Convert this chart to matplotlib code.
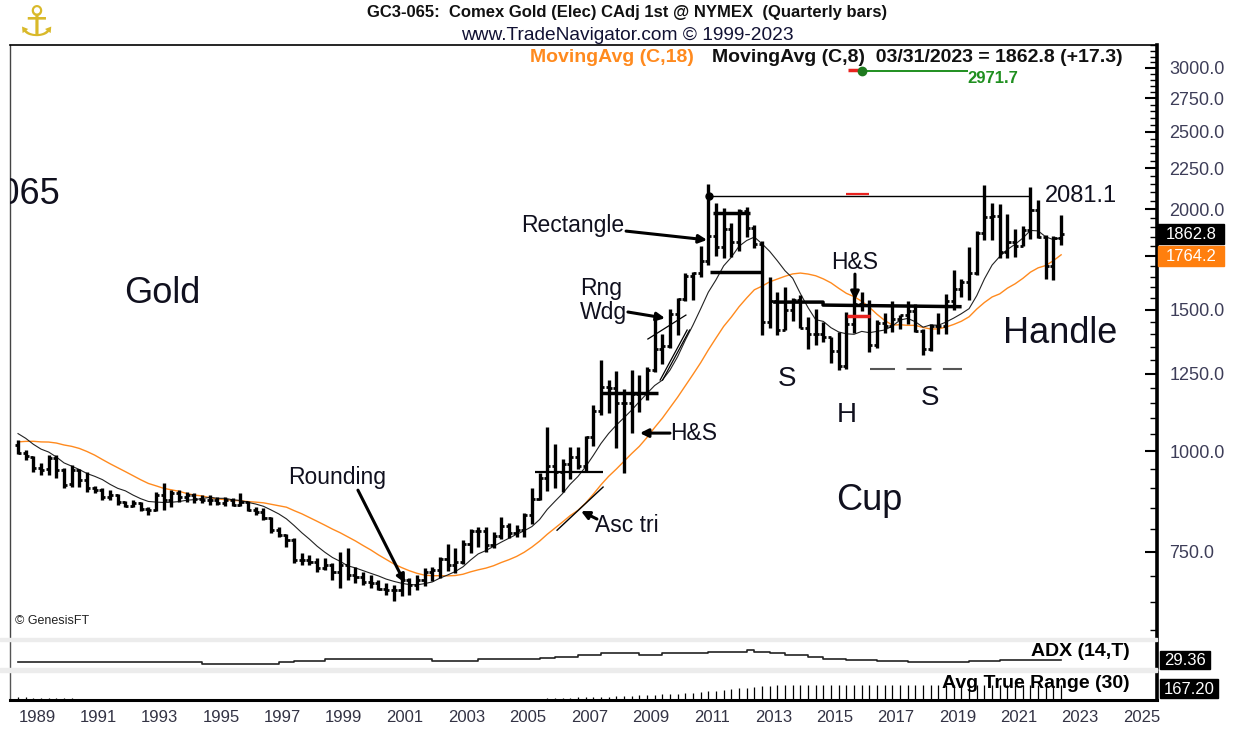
import numpy as np
import matplotlib
matplotlib.use("Agg")
import matplotlib.pyplot as plt
from matplotlib.patches import Rectangle
from matplotlib.ticker import FixedLocator, FuncFormatter, NullFormatter

plt.rcParams['font.family'] = ['Liberation Sans', 'DejaVu Sans']

# ------------------------------------------------------------------ data
first_quarter = 1989.0          # first bar = 1989 Q1, one bar per quarter
# closes before the first bar (1984Q4-1988Q4), only used to warm up the averages
pre_closes = [960, 950, 980, 990, 1000, 1010, 1020, 1030, 1060, 1080, 1100, 1095,
              1060, 1050, 1060, 1040, 1020]

opens = [1020, 995, 985, 954, 950, 982, 948, 910, 948, 921,
         900, 895, 878, 883, 865, 856, 862, 848, 845, 883,
         870, 888, 878, 883, 873, 870, 870, 863, 870, 858,
         865, 845, 840, 826, 798, 787, 776, 733, 733, 729,
         716, 722, 708, 722, 702, 698, 688, 686, 674, 672,
         672, 692, 682, 692, 708, 712, 735, 722, 728, 768,
         796, 796, 765, 786, 808, 792, 798, 833, 873, 927,
         959, 944, 965, 985, 960, 1043, 1124, 1203, 1198, 1148,
         1149, 1179, 1182, 1263, 1340, 1353, 1484, 1547, 1655, 1665,
         1728, 1852, 1794, 1889, 1824, 1992, 1895, 1811, 1448, 1540,
         1416, 1499, 1542, 1426, 1399, 1400, 1389, 1332, 1278, 1440,
         1526, 1520, 1357, 1444, 1432, 1460, 1478, 1495, 1413, 1342,
         1432, 1432, 1539, 1592, 1627, 1667, 1870, 1956, 1963, 1773,
         1823, 1803, 1884, 1997, 1850, 1700, 1845.5]
highs = [1033, 1004, 986, 967, 990, 990, 954, 962, 950, 943,
         905, 900, 895, 885, 867, 870, 864, 852, 890, 913,
         895, 895, 890, 887, 883, 883, 877, 877, 875, 887,
         867, 852, 850, 828, 805, 790, 780, 747, 743, 737,
         737, 726, 750, 758, 718, 708, 702, 692, 686, 682,
         706, 696, 702, 716, 718, 740, 768, 758, 775, 800,
         805, 805, 793, 828, 815, 810, 838, 900, 940, 1072,
         1022, 980, 1013, 1013, 1045, 1142, 1300, 1227, 1258, 1195,
         1262, 1245, 1275, 1468, 1400, 1505, 1550, 1668, 1672, 1800,
         2150, 2035, 2010, 1925, 2005, 2012, 1911, 1825, 1648, 1578,
         1600, 1550, 1565, 1470, 1505, 1449, 1390, 1408, 1489, 1570,
         1580, 1542, 1458, 1486, 1537, 1480, 1540, 1525, 1420, 1440,
         1486, 1569, 1680, 1640, 1794, 1882, 2145, 2035, 2030, 1976,
         1894, 1910, 2132, 2055, 1858, 1852, 1969]
lows = [992, 976, 943, 935, 935, 928, 900, 903, 903, 890,
        887, 870, 870, 858, 853, 853, 843, 833, 843, 845,
        852, 865, 865, 862, 862, 858, 858, 855, 855, 856,
        843, 833, 822, 791, 783, 761, 726, 722, 722, 708,
        712, 692, 676, 692, 686, 682, 676, 672, 663, 651,
        660, 663, 672, 680, 690, 695, 710, 706, 725, 748,
        761, 750, 758, 778, 780, 782, 783, 812, 870, 893,
        900, 890, 925, 950, 942, 1016, 1110, 1118, 1010, 940,
        1055, 1120, 1160, 1255, 1285, 1345, 1396, 1540, 1545, 1648,
        1706, 1750, 1743, 1747, 1776, 1850, 1790, 1394, 1425, 1394,
        1415, 1455, 1423, 1340, 1355, 1370, 1288, 1263, 1266, 1405,
        1495, 1328, 1346, 1404, 1410, 1420, 1440, 1410, 1318, 1335,
        1400, 1400, 1501, 1555, 1545, 1660, 1834, 1835, 1742, 1740,
        1745, 1800, 1840, 1845, 1640, 1636, 1807]
closes = [995, 987, 954, 948, 982, 948, 908, 948, 921, 900,
          895, 878, 883, 865, 856, 862, 848, 845, 883, 870,
          888, 878, 883, 873, 870, 870, 863, 870, 858, 865,
          845, 840, 826, 798, 787, 776, 733, 733, 729, 716,
          722, 708, 722, 702, 698, 688, 686, 674, 672, 672,
          692, 682, 692, 708, 712, 735, 722, 728, 768, 796,
          796, 765, 786, 808, 792, 798, 833, 873, 927, 959,
          944, 965, 985, 960, 1043, 1124, 1203, 1198, 1148, 1149,
          1179, 1182, 1263, 1340, 1353, 1484, 1547, 1655, 1665, 1728,
          1852, 1794, 1889, 1824, 1992, 1895, 1811, 1448, 1540, 1416,
          1499, 1542, 1426, 1399, 1400, 1389, 1332, 1278, 1440, 1526,
          1520, 1357, 1444, 1432, 1460, 1478, 1495, 1413, 1342, 1432,
          1432, 1539, 1592, 1627, 1667, 1870, 1956, 1963, 1773, 1823,
          1803, 1884, 1997, 1850, 1700, 1845.5, 1862.8]

atr30 = [62, 61, 60, 58, 56, 55, 54, 53,
         52, 51, 51, 50, 51, 50, 50, 51, 50, 49, 50, 51, 50, 49, 50, 49, 48, 48,
         38, 37, 36, 36, 35, 35, 34, 34, 35, 35, 36, 36, 37, 37, 36, 35, 36, 37, 37,
         36, 35, 34, 33, 33, 32, 32, 31, 31, 32, 32, 33, 33, 34, 34, 35, 36, 37, 39,
         42, 44, 46, 48, 50, 53, 55, 57, 59, 61, 63, 65,
         67, 69, 71, 73, 75,
         78, 81, 84, 87, 90, 93, 96,
         100, 106, 112, 118, 124,
         130, 137, 144, 150, 156,
         160, 163, 165, 166, 167, 168, 168, 168, 168, 168, 167, 167, 166, 166, 165,
         165, 164, 164, 163, 163, 163, 162, 162,
         162, 163, 163, 164, 164, 165, 166, 166, 167, 167, 167, 167, 167, 167, 167, 167.2]

adx_step_start = [1989.0, 1995.0, 1997.5, 1998.0, 1999.0, 2002.5, 2004.0, 2006.0, 2006.5,
                  2007.25, 2008.0, 2009.25, 2010.0, 2011.5, 2012.75, 2013.0, 2013.5,
                  2014.0, 2014.75, 2015.25, 2016.0, 2017.0, 2018.0, 2020.0, 2021.0]
adx_step_value = [20.5, 14.5, 20.5, 26.5, 32.5, 26.5, 32.5, 37, 42,
                  48, 56, 47, 57, 61, 65, 60, 54,
                  47, 40, 35, 30, 25, 20.5, 25, 29.36]
adx_end = 2023.0

price_ticks = [750, 1000, 1250, 1500, 1750, 2000, 2250, 2500, 2750, 3000]
year_labels = list(range(1989, 2026, 2))
ma18_label, adx_label, atr_label = 1764.2, 29.36, 167.20
target_level, target_high = 2081.1, 2971.7

# ------------------------------------------------------------------ figure
W, H = 1239, 729
fig = plt.figure(figsize=(W / 100, H / 100), dpi=100)
fig.patch.set_facecolor('white')


def add_ax(x0, y0, x1, y1):
    return fig.add_axes([x0 / W, 1 - y1 / H, (x1 - x0) / W, (y1 - y0) / H])


def fxy(x, y):
    return x / W, 1 - y / H


# light grey separators between panes
for (ya, yb) in [(638, 641), (668, 672)]:
    fig.patches.append(Rectangle(fxy(0, yb), 1157 / W, (yb - ya) / H,
                                 transform=fig.transFigure, color='#ececec', zorder=0))

ax = add_ax(10, 45, 1157, 638)
ax_adx = add_ax(10, 641, 1157, 668)
ax_atr = add_ax(10, 672, 1157, 700)

T = first_quarter + np.arange(len(closes)) / 4.0
x_left, x_right = 1988.739, 2026.125

# ------------------------------------------------------------------ main pane
allc = np.array(pre_closes + closes, dtype=float)


def sma(a, n):
    return np.convolve(a, np.ones(n) / n, mode='valid')


ma8 = sma(allc, 8)[-len(closes):]
ma18 = sma(allc, 18)[-len(closes):]

ax.set_yscale('log')
ax.set_xlim(x_left, x_right)
ax.set_ylim(586, 3204)

ax.plot(T, ma18, color='#ff8a1e', lw=1.0, zorder=2)
ax.plot(T, ma8, color='#222222', lw=0.8, zorder=2)

tick = 0.1
ax.vlines(T, lows, highs, color='black', lw=2.4, zorder=3)
ax.hlines(opens, T - tick, T, color='black', lw=2.0, zorder=3)
ax.hlines(closes, T, T + tick, color='black', lw=2.0, zorder=3)

ax.yaxis.tick_right()
ax.yaxis.set_major_locator(FixedLocator(price_ticks))
ax.yaxis.set_major_formatter(FuncFormatter(lambda v, p: f"{v:.1f}"))
ax.yaxis.set_minor_locator(FixedLocator([v for v in range(600, 3201, 50) if v not in price_ticks]))
ax.yaxis.set_minor_formatter(NullFormatter())
ax.tick_params(axis='y', which='major', direction='in', length=9, width=1.5, pad=9,
               labelsize=13, labelcolor='#3d3d58', right=True, left=False)
ax.tick_params(axis='y', which='minor', direction='in', length=5, width=1.0,
               right=True, left=False)
ax.tick_params(axis='x', which='both', bottom=False, labelbottom=False)
ax.spines['right'].set_linewidth(2.6)
ax.spines['left'].set_linewidth(1.0)
ax.spines['left'].set_color('#444444')
ax.spines['top'].set_linewidth(1.2)
ax.spines['bottom'].set_visible(False)

# chart-pattern lines
ax.hlines(target_level, 2011.52, 2021.99, color='black', lw=1.0, zorder=2)
ax.plot([2011.52], [target_level], 'o', color='black', ms=5, zorder=4)
ax.hlines(2092, 2015.99, 2016.74, color='#e8231f', lw=1.6, zorder=4)
ax.hlines(2983, 2016.05, 2016.44, color='#e8231f', lw=2.5, zorder=4)
ax.hlines(target_high, 2016.51, 2019.96, color='#1f8f1f', lw=1.4, zorder=4)
ax.plot([2016.51], [target_high], 'o', color='#1f7a1f', ms=6, zorder=5)
ax.text(2019.96, target_high, f"{target_high:.1f}", color='#1f8f1f', fontsize=12,
        fontweight='bold', ha='left', va='top')

ax.hlines(1980, 2011.65, 2012.86, color='black', lw=2.5, zorder=4)
ax.hlines(1672, 2011.56, 2013.25, color='black', lw=2.5, zorder=4)
ax.hlines(1182, 2007.97, 2009.86, color='black', lw=2.5, zorder=4)
ax.hlines(943, 2005.85, 2008.07, color='black', lw=1.6, zorder=4)
ax.plot([2006.57, 2008.07], [798, 903], color='black', lw=1.0, zorder=4)
ax.plot([2009.53, 2010.77], [1380, 1478], color='black', lw=0.9, zorder=4)
ax.plot([2009.93, 2010.81], [1227, 1416], color='black', lw=0.9, zorder=4)
ax.plot([2010.01, 2010.89], [1227, 1416], color='black', lw=0.9, zorder=4)
ax.plot([2013.67, 2015.24, 2015.24, 2019.70], [1534, 1534, 1521, 1514],
        color='black', lw=2.5, zorder=4)
ax.hlines(1474, 2016.02, 2016.77, color='#e8231f', lw=2.5, zorder=5)
ax.hlines(1266, 2016.77, 2019.77, color='#555555', lw=1.5, linestyles=(0, (12, 5.5)), zorder=4)

tc = '#10101e'
ax.text(1990.37, 2085, "GC3-065", fontsize=26, ha='right', va='center', color=tc, clip_on=True)
ax.text(1993.69, 1574, "Gold", fontsize=26, ha='center', va='center', color=tc)
ax.text(2016.74, 870, "Cup", fontsize=26, ha='center', va='center', color=tc)
ax.text(2022.96, 1400, "Handle", fontsize=26, ha='center', va='center', color=tc)
ax.text(1999.40, 929, "Rounding", fontsize=16.5, ha='center', va='center', color=tc)
ax.text(2007.09, 1908, "Rectangle", fontsize=16.5, ha='center', va='center', color=tc)
ax.text(2007.32, 1540, "Rng\nWdg", fontsize=16.5, ha='left', va='center', color=tc,
        linespacing=1.05)
ax.text(2010.25, 1054, "H&S", fontsize=16.5, ha='left', va='center', color=tc)
ax.text(2007.81, 810, "Asc tri", fontsize=16.5, ha='left', va='center', color=tc)
ax.text(2016.28, 1716, "H&S", fontsize=16.5, ha='center', va='center', color=tc)
ax.text(2014.07, 1231, "S", fontsize=20, ha='center', va='center', color=tc)
ax.text(2016.02, 1110, "H", fontsize=20, ha='center', va='center', color=tc)
ax.text(2018.73, 1165, "S", fontsize=20, ha='center', va='center', color=tc)
ax.text(2022.47, target_level, f"{target_level:.1f}", fontsize=17, ha='left',
        va='center', color=tc)
ax.text(0.004, 0.018, "© GenesisFT", transform=ax.transAxes, fontsize=9,
        ha='left', va='bottom', color='#222222')

arrow = dict(arrowstyle='-|>', color='black', lw=2.2, mutation_scale=12, shrinkA=0, shrinkB=0)
for tail, tip in [((2000.08, 895), (2001.61, 686)),
                  ((2008.82, 1880), (2011.46, 1833)),
                  ((2008.88, 1491), (2010.09, 1465)),
                  ((2010.25, 1054), (2009.27, 1054)),
                  ((2007.87, 824), (2007.35, 843)),
                  ((2016.28, 1662), (2016.28, 1543))]:
    ax.annotate('', xy=tip, xytext=tail, arrowprops=arrow, zorder=5)

# ------------------------------------------------------------------ ADX pane
ax_adx.set_xlim(x_left, x_right)
ax_adx.set_ylim(0, 100)
ax_adx.plot(adx_step_start + [adx_end], adx_step_value + [adx_step_value[-1]],
            drawstyle='steps-post', color='#222222', lw=1.2)
ax_adx.set_xticks([])
ax_adx.set_yticks([])
for s in ['top', 'bottom']:
    ax_adx.spines[s].set_visible(False)
ax_adx.spines['left'].set_color('#555555')
ax_adx.spines['left'].set_linewidth(1.0)
ax_adx.spines['right'].set_linewidth(2.6)
narrow = ['Liberation Sans Narrow', 'Liberation Sans', 'DejaVu Sans']
ax_adx.text(1120 / 1147, 0.62, "ADX (14,T)", transform=ax_adx.transAxes,
            ha='right', va='center', fontsize=14, fontweight='bold', family=narrow)

# ------------------------------------------------------------------ ATR pane
ax_atr.set_xlim(x_left, x_right)
ax_atr.set_ylim(40, 275)
ax_atr.vlines(T, 0, atr30, color='black', lw=0.9)
ax_atr.set_yticks([])
ax_atr.set_xticks([y + 0.619 for y in year_labels])
ax_atr.set_xticklabels([str(y) for y in year_labels], family=narrow, fontsize=12,
                       color='#333344')
ax_atr.tick_params(axis='x', length=0, pad=7)
ax_atr.spines['top'].set_visible(False)
ax_atr.spines['bottom'].set_linewidth(2.2)
ax_atr.spines['left'].set_color('#555555')
ax_atr.spines['left'].set_linewidth(1.0)
ax_atr.spines['right'].set_linewidth(2.6)
ax_atr.text(1120 / 1147, 0.6, "Avg True Range (30)", transform=ax_atr.transAxes,
            ha='right', va='center', fontsize=14, fontweight='bold', family=narrow)

# ------------------------------------------------------------------ header
fig.text(*fxy(627, 13), "GC3-065:  Comex Gold (Elec) CAdj 1st @ NYMEX  (Quarterly bars)",
         ha='center', va='center', fontsize=12, fontweight='bold', color='#111111')
fig.text(*fxy(627, 35), "www.TradeNavigator.com © 1999-2023", ha='center', va='center',
         fontsize=13.8, color='#111133')
fig.text(*fxy(530, 58), "MovingAvg (C,18)", ha='left', va='center', fontsize=14,
         fontweight='bold', color='#ff8a1e')
fig.text(*fxy(712, 58), f"MovingAvg (C,8)  03/31/2023 = {closes[-1]:.1f} (+17.3)",
         ha='left', va='center', fontsize=14, fontweight='bold', color='#111111')
fig.text(*fxy(37, 24), "\u2693", ha='center', va='center', fontsize=30, color='#d9b92a',
         family=['DejaVu Sans'])


# value tags on the right
def tag(x0, y0, x1, y1, txt, bg, size=12, fam=None):
    fig.patches.append(Rectangle(fxy(x0, y1), (x1 - x0) / W, (y1 - y0) / H,
                                 transform=fig.transFigure, color=bg, zorder=5))
    fig.text(*fxy((x0 + x1) / 2, (y0 + y1) / 2 + 0.5), txt, ha='center', va='center',
             fontsize=size, color='white', zorder=6, family=fam or ['Liberation Sans'])


tag(1158, 224, 1224, 244, f"{closes[-1]:.1f}", 'black')
tag(1158, 246, 1224, 266, f"{ma18_label:.1f}", '#ff7f0e')
tag(1160, 651, 1210, 669, f"{adx_label:.2f}", 'black', 12, narrow)
tag(1160, 679, 1218, 698, f"{atr_label:.2f}", 'black', 12, narrow)

fig.savefig("out.png", dpi=100, facecolor='white')
